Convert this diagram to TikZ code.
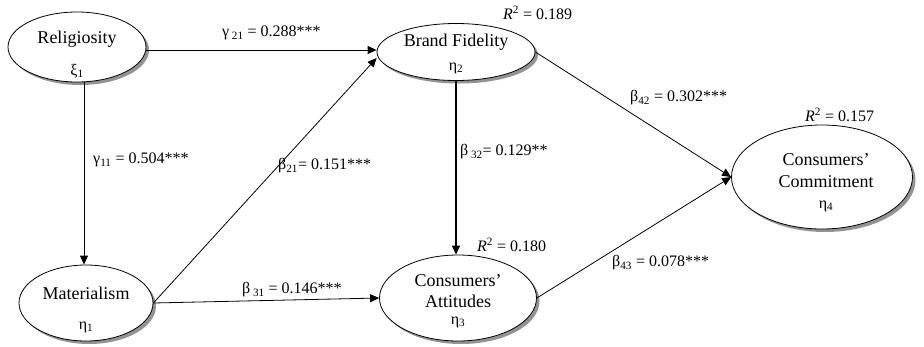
\documentclass[tikz,border=0pt]{standalone}
\usepackage{fontspec}
\setmainfont{Liberation Serif}
\usetikzlibrary{shapes.geometric,shadows,arrows.meta}
\tikzset{
  latent/.style={ellipse, draw, line width=0.8pt, fill=white, inner sep=0pt,
    drop shadow={shadow xshift=3pt, shadow yshift=-3pt, fill=gray!85, opacity=1}},
  vartext/.style={font=\fontsize{18}{20}\selectfont, inner sep=0pt, align=center},
  symtext/.style={font=\fontsize{16}{18}\selectfont, inner sep=0pt},
  coef/.style={font=\fontsize{16}{18}\selectfont, inner sep=0pt, anchor=west},
  arr/.style={line width=0.8pt, -{Triangle[length=9pt,width=8pt]}},
  thickarr/.style={line width=1.6pt, -{Triangle[length=9pt,width=8pt]}}
}
\begin{document}
\begin{tikzpicture}[x=1pt,y=-1pt]
\useasboundingbox (0,0) rectangle (924,346);
% latent variables
\node[latent, minimum width=138pt, minimum height=70pt] (rel) at (77,47) {};
\node[latent, minimum width=158pt, minimum height=57pt] (bf) at (456,52) {};
\node[latent, minimum width=134pt, minimum height=76pt] (mat) at (86,303) {};
\node[latent, minimum width=157pt, minimum height=86pt] (att) at (458,298) {};
\node[latent, minimum width=181pt, minimum height=104pt] (com) at (822,177) {};
% texts
\node[vartext] (relt) at (77,39) {Religiosity};
\node[symtext] (rels) at (77,71) {ξ\textsubscript{1}};
\node[vartext] (bft) at (456,42) {Brand Fidelity};
\node[symtext] (bfs) at (456,68) {η\textsubscript{2}};
\node[vartext] (matt) at (86,293) {Materialism};
\node[symtext] (mats) at (86,327) {η\textsubscript{1}};
\node[vartext] (attt1) at (458,281) {Consumers’};
\node[vartext] (attt2) at (458,301) {Attitudes};
\node[symtext] (atts) at (458,322) {η\textsubscript{3}};
\node[vartext] (comt1) at (826,160) {Consumers’};
\node[vartext] (comt2) at (826,182) {Commitment};
\node[symtext] (coms) at (826,206) {η\textsubscript{4}};
% R squared
\node[coef] (r2a) at (503,13) {\textit{R}\textsuperscript{2} = 0.189};
\node[coef] (r2b) at (805,115) {\textit{R}\textsuperscript{2} = 0.157};
\node[coef] (r2c) at (477,245) {\textit{R}\textsuperscript{2} = 0.180};
% paths
\coordinate (vx1) at (84,0);
\coordinate (hy1) at (0,50);
\coordinate (hy2) at (0,58);
\draw[arr, line width=1pt] (rel.east |- hy1) -- (bf.west |- hy1);
\draw[arr] (rel.south -| vx1) -- (mat.north -| vx1);
\draw[arr] (mat.east) -- (bf.west |- hy2);
\draw[arr] (mat.east) -- (att.west);
\draw[thickarr] (bf.south) -- (att.north -| bf.south);
\draw[arr] (bf.east) -- (com.west);
\draw[arr] (att.east) -- (com.west);
% coefficients
\node[coef] (g21) at (222,33) {γ\,\textsubscript{21} = 0.288***};
\node[coef] (g11) at (93,160) {γ\textsubscript{11} = 0.504***};
\node[coef] (b21) at (278,166) {β\textsubscript{21}= 0.151***};
\node[coef] (b31) at (242,290) {β\,\textsubscript{31} = 0.146***};
\node[coef] (b32) at (460,152) {β\,\textsubscript{32}= 0.129**};
\node[coef] (b42) at (630,98) {β\textsubscript{42} = 0.302***};
\node[coef] (b43) at (612,263) {β\textsubscript{43} = 0.078***};
\end{tikzpicture}
\end{document}
